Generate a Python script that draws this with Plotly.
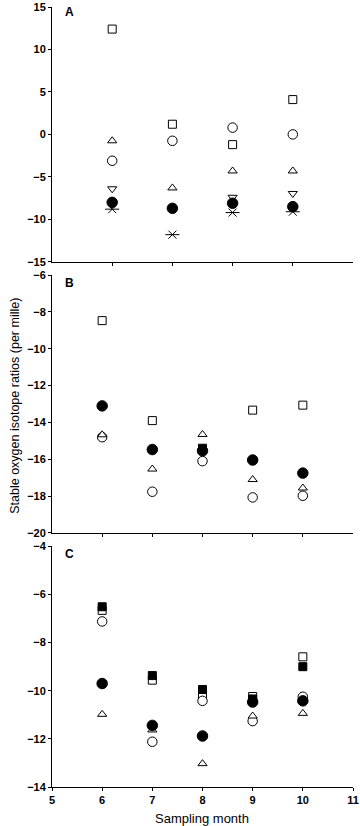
import plotly.graph_objects as go

# ---------------- data ----------------
# Panel A (4 sampling occasions)
a_x = [1, 2, 3, 4]
a_open_square = [12.4, 1.2, -1.2, 4.1]
a_open_circle = [-3.1, -0.75, 0.8, 0.0]
a_tri_up = [-0.75, -6.3, -4.3, -4.3]
a_tri_down = [-6.4, None, -7.4, -6.95]
a_asterisk = [-8.8, -11.8, -9.2, -9.1]
a_filled_circle = [-8.0, -8.7, -8.1, -8.5]

# Panel B
b_x = [6, 7, 8, 9, 10]
b_open_square = [-8.47, -13.9, None, -13.33, -13.06]
b_open_circle = [-14.8, -17.76, -16.1, -18.07, -17.98]
b_tri_up = [-14.67, -16.53, -14.65, -17.1, -17.56]
b_filled_square = [None, None, -15.4, None, None]
b_filled_circle = [-13.1, -15.47, -15.54, -16.04, -16.75]

# Panel C
c_x = [6, 7, 8, 9, 10]
c_open_square = [-6.66, -9.56, -10.15, -10.24, -8.59]
c_open_circle = [-7.12, -12.12, -10.42, -11.26, -10.25]
c_tri_up = [-10.98, -11.63, -13.03, -11.05, -10.94]
c_filled_square = [-6.51, -9.37, -9.95, -10.34, -9.0]
c_filled_circle = [-9.70, -11.44, -11.88, -10.47, -10.42]

x_ticks_c = [5, 6, 7, 8, 9, 10, 11]

# ---------------- figure ----------------
W, H = 360, 826
ML, MR, MT, MB = 52, 7, 7, 38.5
plot_h = H - MT - MB
FONT = "Liberation Sans, Arial, sans-serif"


def py2paper(py):
    return (H - MB - py) / plot_h


def px2paper(px):
    return (px - ML) / (W - ML - MR)


fig = go.Figure()

open_style = dict(color="white", line=dict(color="black", width=1))
filled_style = dict(color="black", line=dict(color="black", width=1))


def add(x, y, xa, ya, symbol, size, style):
    m = dict(symbol=symbol, size=size)
    m.update(style)
    fig.add_trace(go.Scatter(x=x, y=y, mode="markers", marker=m,
                             xaxis=xa, yaxis=ya, showlegend=False,
                             hoverinfo="x+y"))


def add_asterisk(x, y, xa, ya):
    for sym, sz in (("x-thin-open", 8), ("line-ew-open", 10)):
        fig.add_trace(go.Scatter(x=x, y=y, mode="markers",
                                 marker=dict(symbol=sym, size=sz, color="black",
                                             line=dict(color="black", width=1)),
                                 xaxis=xa, yaxis=ya, showlegend=False,
                                 hoverinfo="x+y"))


# Panel A
add(a_x, a_open_square, "x", "y", "square", 8, open_style)
add(a_x, a_open_circle, "x", "y", "circle", 9.5, open_style)
add(a_x, a_tri_up, "x", "y", "triangle-up", 8, open_style)
add(a_x, a_tri_down, "x", "y", "triangle-down", 8, open_style)
add_asterisk(a_x, a_asterisk, "x", "y")
add(a_x, a_filled_circle, "x", "y", "circle", 10.5, filled_style)

# Panel B
add(b_x, b_open_square, "x2", "y2", "square", 8, open_style)
add(b_x, b_open_circle, "x2", "y2", "circle", 9.5, open_style)
add(b_x, b_tri_up, "x2", "y2", "triangle-up", 8, open_style)
add(b_x, b_filled_square, "x2", "y2", "square", 8, filled_style)
add(b_x, b_filled_circle, "x2", "y2", "circle", 10.5, filled_style)

# Panel C
add(c_x, c_open_square, "x3", "y3", "square", 8, open_style)
add(c_x, c_open_circle, "x3", "y3", "circle", 9.5, open_style)
add(c_x, c_tri_up, "x3", "y3", "triangle-up", 8, open_style)
add(c_x, c_filled_square, "x3", "y3", "square", 8, filled_style)
add(c_x, c_filled_circle, "x3", "y3", "circle", 10.5, filled_style)

tickfont = dict(family=FONT, size=11, color="black", weight="bold")
common_axis = dict(showline=True, linecolor="black", linewidth=1,
                   showgrid=False, zeroline=False, ticks="outside",
                   ticklen=3, tickwidth=1, tickcolor="black",
                   tickfont=tickfont, fixedrange=True, automargin=False)

dom_a = [py2paper(262), 1.0]
dom_b = [py2paper(533.3), py2paper(275.3)]
dom_c = [0.0, py2paper(546.7)]

fig.update_layout(
    width=W, height=H,
    margin=dict(l=ML, r=MR, t=MT, b=MB),
    paper_bgcolor="white", plot_bgcolor="white",
    font=dict(family=FONT, color="black"),
    xaxis=dict(common_axis, range=[0, 5], tickvals=a_x, showticklabels=False,
               anchor="y", domain=[0, 1]),
    yaxis=dict(common_axis, range=[-15, 15], dtick=5, anchor="x",
               domain=dom_a),
    xaxis2=dict(common_axis, range=[5, 11], tickvals=b_x, showticklabels=False,
                anchor="y2", domain=[0, 1]),
    yaxis2=dict(common_axis, range=[-20, -6], dtick=2, anchor="x2",
                domain=dom_b),
    xaxis3=dict(common_axis, range=[5, 11], tickvals=x_ticks_c,
                anchor="y3", domain=[0, 1]),
    yaxis3=dict(common_axis, range=[-14, -4], dtick=2, anchor="x3",
                domain=dom_c),
)

annotations = [
    dict(text="Stable oxygen isotope ratios (per mille)", textangle=-90,
         x=px2paper(15), y=py2paper(406), xref="paper", yref="paper",
         showarrow=False, xanchor="center", yanchor="middle",
         font=dict(size=12.5, color="black", family=FONT)),
    dict(text="Sampling month", x=px2paper(202), y=py2paper(819),
         xref="paper", yref="paper", showarrow=False,
         xanchor="center", yanchor="middle",
         font=dict(size=13, color="black", family=FONT)),
]
for lab, py in (("A", 12), ("B", 283), ("C", 554)):
    annotations.append(dict(text=lab, x=px2paper(69), y=py2paper(py),
                            xref="paper", yref="paper", showarrow=False,
                            xanchor="center", yanchor="middle",
                            font=dict(size=12, color="black", weight="bold",
                                      family=FONT)))
fig.update_layout(annotations=annotations)

fig.write_html("out.html",
               config={"displayModeBar": False},
               post_script="document.body.style.margin='0';"
                           "document.body.style.overflow='hidden';")
